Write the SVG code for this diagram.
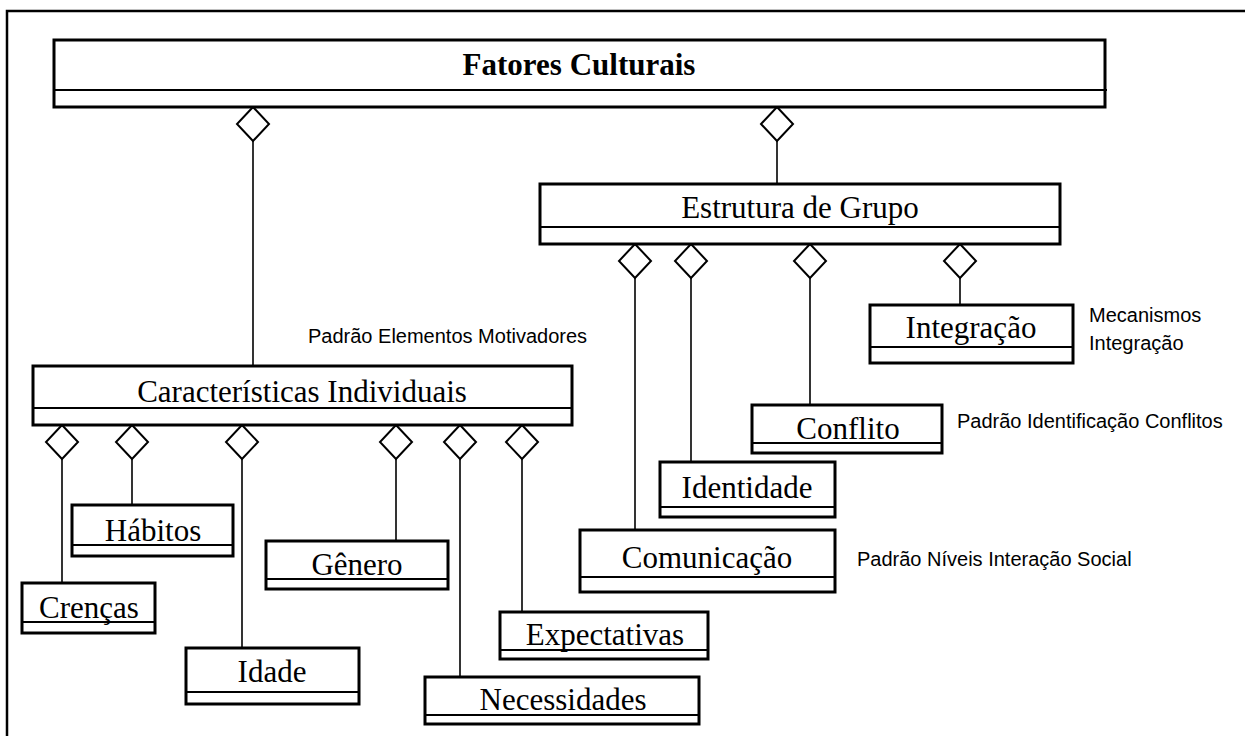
<svg xmlns="http://www.w3.org/2000/svg" xmlns:xlink="http://www.w3.org/1999/xlink" width="1245" height="736" viewBox="0 0 1245 736">
<style>
.box{fill:#fff;stroke:#000;stroke-width:3}
.div{stroke:#000;stroke-width:2}
.lbl{font-family:"Liberation Serif","Times New Roman",serif;font-size:31px;fill:#000;text-anchor:middle}
.title{font-weight:bold;font-size:31px}
.note{font-family:"Liberation Sans",Arial,sans-serif;font-size:20px;fill:#000}
.con line{stroke:#000;stroke-width:1.6}
.dia{fill:#fff;stroke:#000;stroke-width:2}
</style>
<defs>
<path id="dia" class="dia" d="M0,0 L16,17 L0,34 L-16,17 Z"/>
</defs>
<rect width="1245" height="736" fill="#fff"/>
<path d="M7,736 V11 H1245" fill="none" stroke="#000" stroke-width="2.5"/>

<g id="connectors" class="con">
<line x1="253" y1="141" x2="253" y2="366"/>
<line x1="777" y1="141" x2="777" y2="184"/>
<line x1="635" y1="278" x2="635" y2="530"/>
<line x1="691" y1="278" x2="691" y2="462"/>
<line x1="810" y1="278" x2="810" y2="405"/>
<line x1="960" y1="278" x2="960" y2="305"/>
<line x1="62" y1="459" x2="62" y2="583"/>
<line x1="132" y1="459" x2="132" y2="505"/>
<line x1="242" y1="459" x2="242" y2="648"/>
<line x1="396" y1="459" x2="396" y2="541"/>
<line x1="460" y1="459" x2="460" y2="677"/>
<line x1="522" y1="459" x2="522" y2="612"/>
<use href="#dia" x="253" y="107"/>
<use href="#dia" x="777" y="107"/>
<use href="#dia" x="635" y="244"/>
<use href="#dia" x="691" y="244"/>
<use href="#dia" x="810" y="244"/>
<use href="#dia" x="960" y="244"/>
<use href="#dia" x="62" y="425"/>
<use href="#dia" x="132" y="425"/>
<use href="#dia" x="242" y="425"/>
<use href="#dia" x="396" y="425"/>
<use href="#dia" x="460" y="425"/>
<use href="#dia" x="522" y="425"/>
</g>

<g id="fatores">
<rect class="box" x="54" y="40" width="1051" height="67"/>
<line class="div" x1="54" y1="90" x2="1107" y2="90"/>
<text class="lbl title" x="579" y="75">Fatores Culturais</text>
</g>

<g id="estrutura">
<rect class="box" x="540" y="184" width="520" height="60"/>
<line class="div" x1="540" y1="227" x2="1060" y2="227"/>
<text class="lbl" x="800" y="218">Estrutura de Grupo</text>
</g>

<g id="caracteristicas">
<rect class="box" x="33" y="366" width="539" height="59"/>
<line class="div" x1="33" y1="408" x2="572" y2="408"/>
<text class="lbl" x="302" y="402">Características Individuais</text>
</g>

<g id="integracao">
<rect class="box" x="870" y="305" width="203" height="58"/>
<line class="div" x1="870" y1="347" x2="1073" y2="347"/>
<text class="lbl" x="971" y="338">Integração</text>
</g>

<g id="conflito">
<rect class="box" x="752" y="405" width="190" height="48"/>
<line class="div" x1="752" y1="443" x2="942" y2="443"/>
<text class="lbl" x="848" y="439">Conflito</text>
</g>

<g id="identidade">
<rect class="box" x="660" y="462" width="175" height="55"/>
<line class="div" x1="660" y1="507" x2="835" y2="507"/>
<text class="lbl" x="747" y="498">Identidade</text>
</g>

<g id="comunicacao">
<rect class="box" x="580" y="530" width="255" height="62"/>
<line class="div" x1="580" y1="577" x2="835" y2="577"/>
<text class="lbl" x="707" y="568">Comunicação</text>
</g>

<g id="habitos">
<rect class="box" x="72" y="505" width="161" height="51"/>
<line class="div" x1="72" y1="545" x2="233" y2="545"/>
<text class="lbl" x="153" y="541">Hábitos</text>
</g>

<g id="crencas">
<rect class="box" x="22" y="583" width="133" height="50"/>
<line class="div" x1="22" y1="622" x2="155" y2="622"/>
<text class="lbl" x="89" y="618">Crenças</text>
</g>

<g id="genero">
<rect class="box" x="266" y="541" width="182" height="48"/>
<line class="div" x1="266" y1="579" x2="448" y2="579"/>
<text class="lbl" x="357" y="575">Gênero</text>
</g>

<g id="idade">
<rect class="box" x="186" y="648" width="173" height="56"/>
<line class="div" x1="186" y1="692" x2="359" y2="692"/>
<text class="lbl" x="272" y="682">Idade</text>
</g>

<g id="expectativas">
<rect class="box" x="500" y="612" width="208" height="47"/>
<line class="div" x1="500" y1="650" x2="708" y2="650"/>
<text class="lbl" x="605" y="645">Expectativas</text>
</g>

<g id="necessidades">
<rect class="box" x="425" y="677" width="274" height="47"/>
<line class="div" x1="425" y1="715" x2="699" y2="715"/>
<text class="lbl" x="563" y="710">Necessidades</text>
</g>

<g id="notes">
<text class="note" x="308" y="343">Padrão Elementos Motivadores</text>
<text class="note" x="1089" y="322">Mecanismos</text>
<text class="note" x="1089" y="350">Integração</text>
<text class="note" x="957" y="428">Padrão Identificação Conflitos</text>
<text class="note" x="857" y="566">Padrão Níveis Interação Social</text>
</g>
</svg>
